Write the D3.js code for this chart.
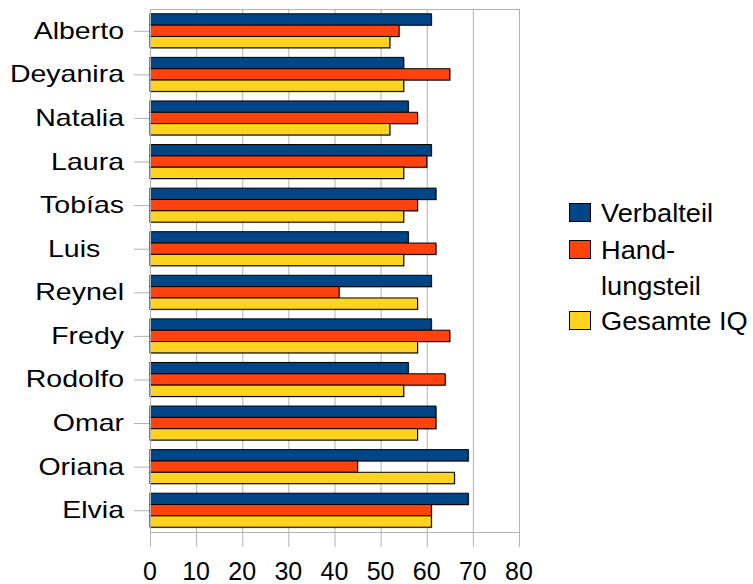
<!DOCTYPE html>
<html>
<head>
<meta charset="utf-8">
<script src="https://cdn.jsdelivr.net/npm/d3@7/dist/d3.min.js"></script>
<style>
  html, body { margin: 0; padding: 0; background: #fff; }
  svg { display: block; font-family: "Liberation Sans", Arial, sans-serif; }
</style>
</head>
<body>
<svg id="chart" width="753" height="584"></svg>
<script>
// Participants, top to bottom
const names = ["Alberto", "Deyanira", "Natalia", "Laura", "Tobías", "Luis   ",
               "Reynel", "Fredy", "Rodolfo", "Omar", "Oriana", "Elvia"];
// Scores per participant
const verbalteil   = [61, 55, 56, 61, 62, 56, 61, 61, 56, 62, 69, 69];
const handlungsteil = [54, 65, 58, 60, 58, 62, 41, 65, 64, 62, 45, 61];
const gesamteIQ    = [52, 55, 52, 55, 55, 55, 58, 58, 55, 58, 66, 61];

const seriesNames = ["Verbalteil", "Handlungsteil", "Gesamte IQ"];
const seriesColors = ["#004586", "#ff420e", "#ffd320"];
const xTicks = [0, 10, 20, 30, 40, 50, 60, 70, 80];

const svg = d3.select("#chart");
const plot = { left: 150, right: 519, top: 9, bottom: 532 };

const x = d3.scaleLinear().domain([0, 80]).range([plot.left, plot.right]);
const y = d3.scaleBand().domain(names).range([plot.top, plot.bottom])
  .paddingInner(0.22).paddingOuter(0.11);
const ySub = d3.scaleBand().domain(seriesNames).range([0, y.bandwidth()]);

const gridColor = "#b3b3b3";

// vertical grid lines, extending below the axis as tick marks
svg.append("g").selectAll("line").data(xTicks).join("line")
  .attr("x1", d => x(d) + 0.5).attr("x2", d => x(d) + 0.5)
  .attr("y1", plot.top).attr("y2", plot.bottom + 15)
  .attr("stroke", gridColor).attr("stroke-width", 1);

// frame: top and bottom edges
svg.append("line").attr("x1", plot.left).attr("x2", plot.right + 1)
  .attr("y1", plot.top + 0.5).attr("y2", plot.top + 0.5)
  .attr("stroke", gridColor);
svg.append("line").attr("x1", plot.left).attr("x2", plot.right + 1)
  .attr("y1", plot.bottom + 0.5).attr("y2", plot.bottom + 0.5)
  .attr("stroke", gridColor);

// category ticks on the left axis
svg.append("g").selectAll("line").data(names).join("line")
  .attr("x1", plot.left - 16).attr("x2", plot.left)
  .attr("y1", d => y(d) + y.bandwidth() / 2 + 0.5)
  .attr("y2", d => y(d) + y.bandwidth() / 2 + 0.5)
  .attr("stroke", gridColor);

// bars
const rows = names.map((n, i) => ({
  name: n,
  values: [verbalteil[i], handlungsteil[i], gesamteIQ[i]]
}));

const groups = svg.append("g").selectAll("g").data(rows).join("g")
  .attr("transform", d => `translate(0,${y(d.name)})`);

const cells = groups.selectAll("g").data(d => d.values.map((v, k) => ({ v, k }))).join("g");

// soft drop shadow
cells.append("rect")
  .attr("x", x(0) + 1)
  .attr("y", d => ySub(seriesNames[d.k]) + 1)
  .attr("width", d => x(d.v) - x(0))
  .attr("height", ySub.bandwidth())
  .attr("fill", "#000").attr("opacity", 0.35);

cells.append("rect")
  .attr("x", x(0))
  .attr("y", d => ySub(seriesNames[d.k]))
  .attr("width", d => x(d.v) - x(0))
  .attr("height", ySub.bandwidth())
  .attr("fill", d => seriesColors[d.k])
  .attr("stroke", "#000").attr("stroke-width", 1);

// left axis line
svg.append("line").attr("x1", plot.left + 0.5).attr("x2", plot.left + 0.5)
  .attr("y1", plot.top).attr("y2", plot.bottom + 15)
  .attr("stroke", gridColor);

// category labels (slightly widened glyphs)
svg.append("g").selectAll("text").data(names).join("text")
  .attr("transform", d => `translate(124,${y(d) + y.bandwidth() / 2 + 8}) scale(1.24,1)`)
  .attr("text-anchor", "end")
  .attr("font-size", 23)
  .attr("fill", "#000")
  .style("white-space", "pre")
  .text(d => d);

// x tick labels
svg.append("g").selectAll("text").data(xTicks).join("text")
  .attr("x", d => x(d))
  .attr("y", 580)
  .attr("text-anchor", "middle")
  .attr("font-size", 25)
  .attr("fill", "#000")
  .text(d => d);

// legend
const legendItems = [
  { color: seriesColors[0], lines: ["Verbalteil"], y: 203 },
  { color: seriesColors[1], lines: ["Hand-", "lungsteil"], y: 240 },
  { color: seriesColors[2], lines: ["Gesamte IQ"], y: 311 }
];
const legend = svg.append("g");
legendItems.forEach(item => {
  legend.append("rect")
    .attr("x", 569.5).attr("y", item.y + 0.5)
    .attr("width", 21).attr("height", 18)
    .attr("fill", item.color).attr("stroke", "#000");
  item.lines.forEach((t, j) => {
    legend.append("text")
      .attr("transform", `translate(601,${item.y + 19 + j * 36}) scale(1.09,1)`)
      .attr("font-size", 25)
      .attr("fill", "#000")
      .text(t);
  });
});
</script>
</body>
</html>
